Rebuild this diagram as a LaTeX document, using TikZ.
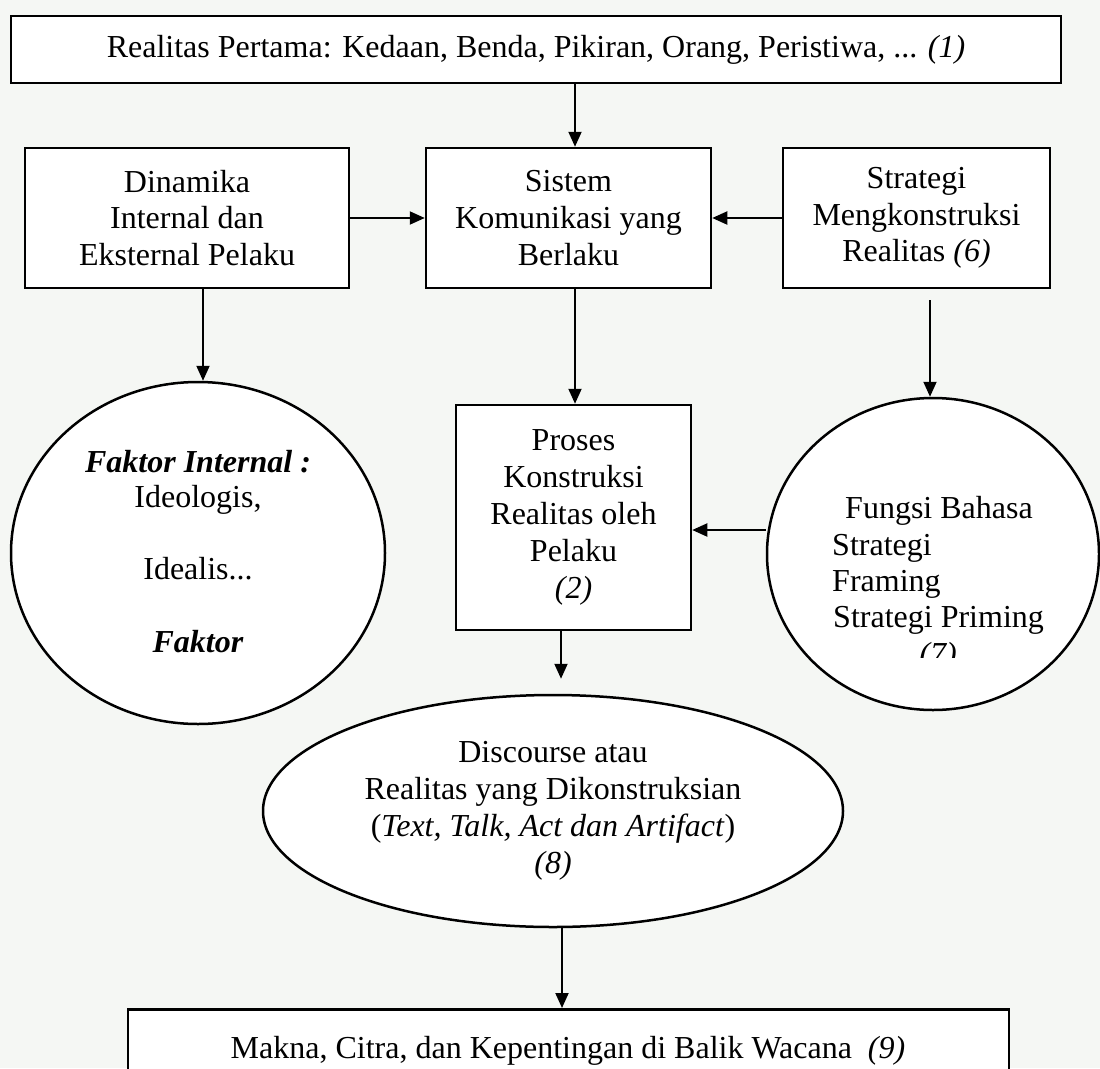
\documentclass[tikz,border=0pt]{standalone}
\usepackage{fontspec}
\setmainfont{Liberation Serif}
\usetikzlibrary{arrows.meta,shapes.geometric}
\definecolor{bgcol}{RGB}{245,247,244}
\begin{document}
\begin{tikzpicture}[x=1pt,y=-1pt,
  box/.style={draw,line width=2.5pt,fill=white,rectangle,inner sep=0pt,align=center},
  oval/.style={draw,line width=2.5pt,fill=white,ellipse,inner sep=0pt,align=center},
  arr/.style={line width=2pt,-{Triangle[length=15pt,width=13pt]}},
  txt/.style={inner sep=0pt},
  font=\fontsize{32}{36.8}\selectfont]
\useasboundingbox (0,0) rectangle (1100,1068);
\clip (0,0) rectangle (1100,1068);
\fill[bgcol] (0,0) rectangle (1100,1068);

% boxes
\node[box,minimum width=1050pt,minimum height=67pt] (title) at (536,49.5)
  {Realitas Pertama: Kedaan, Benda, Pikiran, Orang, Peristiwa, ... \textit{(1)}};
\node[box,minimum width=324pt,minimum height=140pt] (dina) at (187,218)
  {Dinamika\\Internal dan\\Eksternal Pelaku};
\node[box,minimum width=285pt,minimum height=140pt] (sis) at (568.5,218)
  {Sistem\\Komunikasi yang\\Berlaku};
\node[box,minimum width=267pt,minimum height=140pt] (strat) at (916.5,218)
  {Strategi\\Mengkonstruksi\\Realitas \textit{(6)}};
\node[box,minimum width=235pt,minimum height=225pt] (proses) at (573.5,517.5)
  {Proses\\Konstruksi\\Realitas oleh\\Pelaku\\\textit{(2)}};

% ovals
\node[oval,minimum width=374pt,minimum height=342pt] (faktor) at (198,553) {};
\node[oval,minimum width=332pt,minimum height=312pt] (fungsi) at (933,554) {};
\node[oval,minimum width=580pt,minimum height=232pt] (disc) at (553,811)
  {Discourse atau\\Realitas yang Dikonstruksian\\(\textit{Text, Talk, Act dan Artifact})\\\textit{(8)}};

% bottom box (runs past the lower edge)
\node[box,minimum width=881pt,minimum height=92pt,anchor=north] (makna) at (568.5,1008) {};
\node[txt,anchor=base] (mtext) at (568,1058)
  {Makna, Citra, dan Kepentingan di Balik Wacana~ \textit{(9)}};

% texts in left circle
\node[txt,anchor=base] (f1) at (198,472) {\textbf{\textit{Faktor Internal :}}};
\node[txt,anchor=base] (f2) at (198,507) {Ideologis,};
\node[txt,anchor=base] (f3) at (198,579) {Idealis...};
\node[txt,anchor=base] (f4) at (198,652) {\textbf{\textit{Faktor}}};

% texts in right circle (clipped)
\begin{scope}
\clip (760,380) rectangle (1100,657);
\node[txt,anchor=base west] (g1) at (845,518) {Fungsi Bahasa};
\node[txt,anchor=base west] (g2) at (832,555) {Strategi};
\node[txt,anchor=base west] (g3) at (832,591) {Framing};
\node[txt,anchor=base west] (g4) at (833,627) {Strategi Priming};
\node[txt,anchor=base] (g5) at (938,664) {\textit{(7)}};
\end{scope}

% connectors
\draw[arr] ([xshift=39pt]title.south) -- ([xshift=6.5pt]sis.north);
\draw[arr] (dina.east) -- (sis.west);
\draw[arr] (strat.west) -- (sis.east);
\draw[arr] ([xshift=16pt]dina.south) -- ([xshift=16pt]dina.south |- faktor.north);
\draw[arr] ([xshift=6.5pt]sis.south) -- ([xshift=6.5pt]sis.south |- proses.north);
\draw[arr] ([xshift=13.5pt,yshift=-11pt]strat.south) -- ([xshift=13.5pt]strat.south |- fungsi.north);
\draw[arr] ([yshift=24pt]fungsi.west) -- ([yshift=24pt]fungsi.west -| proses.east);
\draw[arr] ([xshift=-12.5pt]proses.south) -- ([xshift=8pt,yshift=15pt]disc.north);
\draw[arr] ([xshift=9pt]disc.south) -- ([xshift=9pt]disc.south |- makna.north);
\end{tikzpicture}
\end{document}
